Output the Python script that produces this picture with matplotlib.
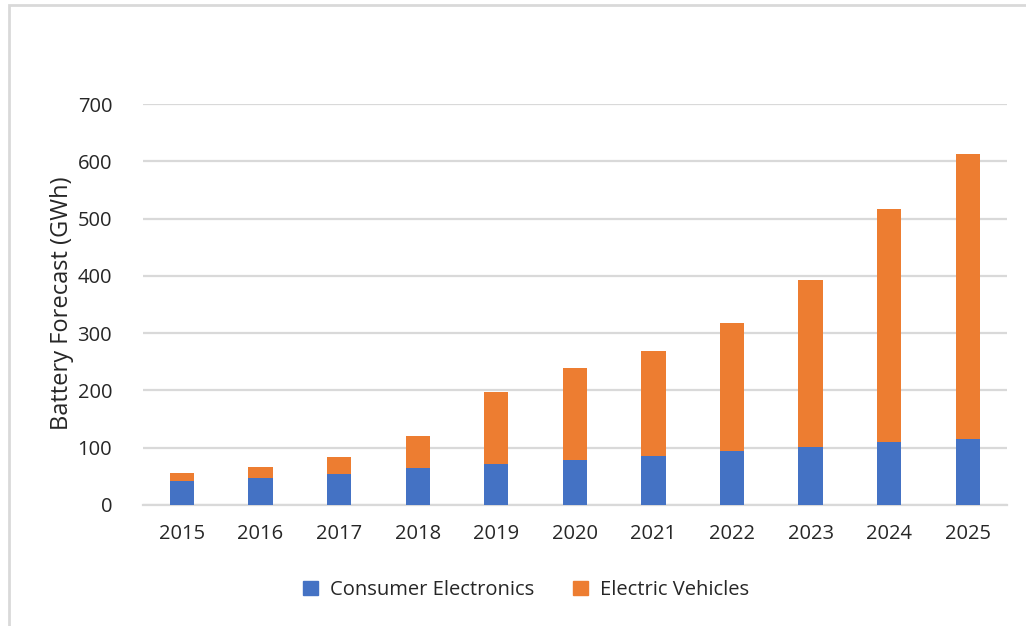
import matplotlib
matplotlib.use("Agg")
import matplotlib.pyplot as plt
from matplotlib.patches import Rectangle, Patch

years = ["2015", "2016", "2017", "2018", "2019", "2020", "2021", "2022", "2023", "2024", "2025"]
consumer = [42, 46.5, 53.5, 64.5, 71.5, 78.5, 85.5, 94, 101, 110, 114.5]
totals = [55, 66, 84, 120, 198, 240, 269, 318, 392, 516, 612]
ev = [t - c for t, c in zip(totals, consumer)]
yticks = [0, 100, 200, 300, 400, 500, 600, 700]

BLUE = "#4472C4"
ORANGE = "#ED7D31"
GRID = "#D9D9D9"
TXT = "#262626"
FONT = "Open Sans"
FS = 14.5

W, H = 1026, 626
fig = plt.figure(figsize=(W / 100, H / 100), dpi=100)
fig.patch.set_facecolor("white")

# outer chart border
fig.add_artist(Rectangle((9 / W, -0.01), 1.1, (626 - 5) / H + 0.01, transform=fig.transFigure,
                         fill=False, edgecolor=GRID, lw=2))

left, right, top, bottom = 142.7, 1007, 104, 505
ax = fig.add_axes([left / W, (H - bottom) / H, (right - left) / W, (bottom - top) / H])
x = range(len(years))
bw = 0.31
ax.bar(x, consumer, width=bw, color=BLUE, zorder=3, label="Consumer Electronics")
ax.bar(x, ev, width=bw, bottom=consumer, color=ORANGE, zorder=3, label="Electric Vehicles")

ax.set_xlim(-0.5, len(years) - 0.5)
ax.set_ylim(0, 700)
ax.set_yticks(yticks)
ax.set_xticks(list(x))
ax.set_xticklabels(years)
ax.yaxis.grid(True, color=GRID, lw=1.6, zorder=0)
for s in ["top", "right", "left"]:
    ax.spines[s].set_visible(False)
ax.spines["bottom"].set_color(GRID)
ax.spines["bottom"].set_linewidth(1.6)
ax.tick_params(axis="both", length=0, labelsize=FS, labelcolor=TXT)
ax.tick_params(axis="x", pad=14)
ax.tick_params(axis="y", pad=22)
for lab in ax.get_xticklabels() + ax.get_yticklabels():
    lab.set_fontfamily(FONT)

fig.text(62 / W, 1 - 303 / H, "Battery Forecast (GWh)", rotation=90, ha="center", va="center",
         fontsize=17, color=TXT, family=FONT)

handles = [Patch(color=BLUE, label="Consumer Electronics"), Patch(color=ORANGE, label="Electric Vehicles")]
fig.legend(handles=handles, loc="center", bbox_to_anchor=(526 / W, 1 - 590 / H), ncol=2,
           frameon=False, prop={"family": FONT, "size": FS}, labelcolor=TXT,
           handlelength=0.75, handleheight=0.75, handletextpad=0.6, columnspacing=1.9)

fig.savefig("out.png", dpi=100, facecolor="white")
